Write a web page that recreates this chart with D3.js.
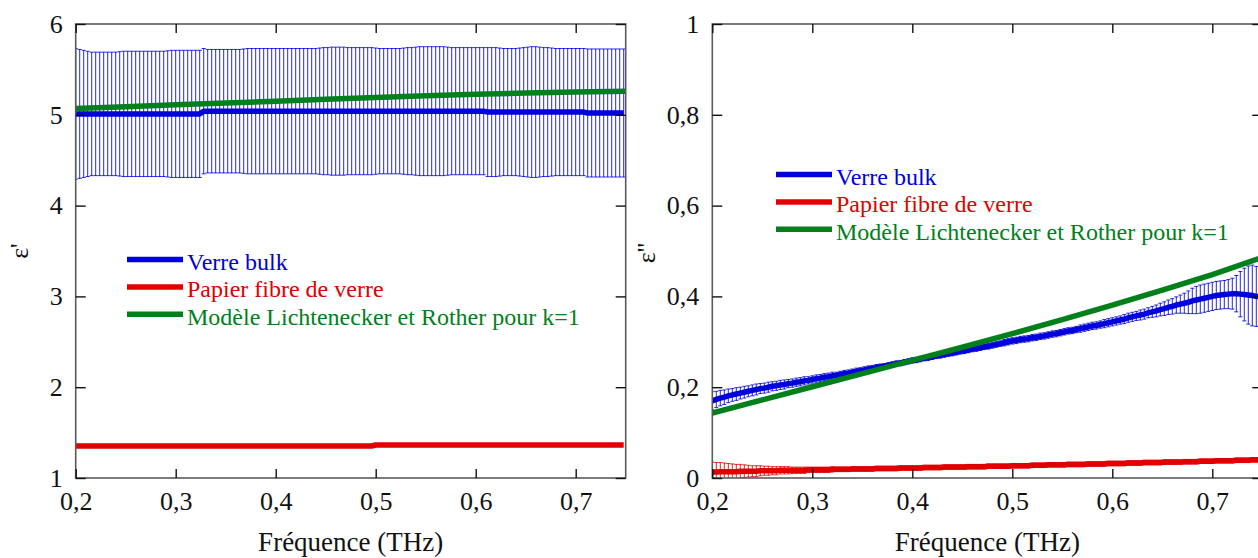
<!DOCTYPE html>
<html><head><meta charset="utf-8">
<script src="https://cdn.jsdelivr.net/npm/d3@7"></script>
<style>
html,body{margin:0;padding:0;background:#fff;overflow:hidden}
svg{display:block}
svg text{font-family:'Liberation Serif','DejaVu Serif',serif !important}
</style>
</head><body>
<svg id="c" width="1258" height="558"></svg>
<script>
// ---------- DATA ----------
const freq = [
0.200,0.204,0.208,0.212,0.216,0.220,0.224,0.228,0.232,0.236,
0.240,0.244,0.248,0.252,0.256,0.260,0.264,0.268,0.272,0.276,
0.280,0.284,0.288,0.292,0.296,0.300,0.304,0.308,0.312,0.316,
0.320,0.324,0.328,0.332,0.336,0.340,0.344,0.348,0.352,0.356,
0.360,0.364,0.368,0.372,0.376,0.380,0.384,0.388,0.392,0.396,
0.400,0.404,0.408,0.412,0.416,0.420,0.424,0.428,0.432,0.436,
0.440,0.444,0.448,0.452,0.456,0.460,0.464,0.468,0.472,0.476,
0.480,0.484,0.488,0.492,0.496,0.500,0.504,0.508,0.512,0.516,
0.520,0.524,0.528,0.532,0.536,0.540,0.544,0.548,0.552,0.556,
0.560,0.564,0.568,0.572,0.576,0.580,0.584,0.588,0.592,0.596,
0.600,0.604,0.608,0.612,0.616,0.620,0.624,0.628,0.632,0.636,
0.640,0.644,0.648,0.652,0.656,0.660,0.664,0.668,0.672,0.676,
0.680,0.684,0.688,0.692,0.696,0.700,0.704,0.708,0.712,0.716,
0.720,0.724,0.728,0.732,0.736,0.740,0.744,0.748];

// Verre bulk, epsilon'
const bulkReal = [
5.01,5.01,5.01,5.01,5.01,5.01,5.01,5.01,5.01,5.01,
5.01,5.01,5.01,5.01,5.01,5.01,5.01,5.01,5.01,5.01,
5.01,5.01,5.01,5.01,5.01,5.01,5.01,5.01,5.01,5.01,
5.01,5.01,5.04,5.04,5.04,5.04,5.04,5.04,5.04,5.04,
5.04,5.04,5.04,5.04,5.04,5.04,5.04,5.04,5.04,5.04,
5.04,5.04,5.04,5.04,5.04,5.04,5.04,5.04,5.04,5.04,
5.04,5.04,5.04,5.04,5.04,5.04,5.04,5.04,5.04,5.04,
5.04,5.04,5.04,5.04,5.04,5.04,5.04,5.04,5.04,5.04,
5.04,5.04,5.04,5.04,5.04,5.04,5.04,5.04,5.04,5.04,
5.04,5.04,5.04,5.04,5.04,5.04,5.04,5.04,5.04,5.04,
5.04,5.04,5.04,5.03,5.03,5.03,5.03,5.03,5.03,5.03,
5.03,5.03,5.03,5.03,5.03,5.03,5.03,5.03,5.03,5.03,
5.03,5.03,5.03,5.03,5.03,5.03,5.03,5.03,5.02,5.02,
5.02,5.02,5.02,5.02,5.02,5.02,5.02,5.02];
const bulkRealErr = [
0.72,0.71,0.70,0.69,0.68,0.68,0.68,0.68,0.68,0.68,
0.68,0.685,0.69,0.69,0.69,0.69,0.69,0.69,0.69,0.69,
0.69,0.69,0.69,0.695,0.70,0.70,0.70,0.70,0.70,0.70,
0.70,0.70,0.69,0.68,0.68,0.68,0.68,0.68,0.68,0.68,
0.68,0.68,0.685,0.69,0.69,0.69,0.69,0.69,0.69,0.69,
0.69,0.69,0.69,0.69,0.69,0.69,0.69,0.69,0.69,0.69,
0.69,0.695,0.70,0.70,0.705,0.705,0.705,0.705,0.70,0.70,
0.70,0.70,0.70,0.70,0.70,0.695,0.69,0.69,0.69,0.69,
0.69,0.69,0.695,0.70,0.70,0.705,0.71,0.71,0.71,0.71,
0.71,0.71,0.71,0.705,0.70,0.70,0.70,0.70,0.70,0.70,
0.70,0.70,0.70,0.71,0.71,0.71,0.705,0.70,0.70,0.70,
0.70,0.705,0.71,0.715,0.72,0.72,0.715,0.71,0.71,0.705,
0.70,0.70,0.70,0.70,0.70,0.70,0.70,0.70,0.705,0.705,
0.705,0.705,0.705,0.705,0.705,0.705,0.705,0.705];

// Papier fibre de verre, epsilon'
const papierReal = [
1.352,1.352,1.352,1.352,1.352,1.352,1.352,1.352,1.352,1.352,
1.352,1.352,1.352,1.352,1.352,1.352,1.352,1.352,1.352,1.352,
1.352,1.352,1.352,1.352,1.352,1.352,1.352,1.352,1.352,1.352,
1.352,1.352,1.352,1.352,1.352,1.352,1.352,1.352,1.352,1.352,
1.352,1.352,1.352,1.352,1.352,1.352,1.352,1.352,1.352,1.352,
1.352,1.352,1.352,1.352,1.352,1.352,1.352,1.352,1.352,1.352,
1.352,1.352,1.352,1.352,1.352,1.352,1.352,1.352,1.352,1.352,
1.352,1.352,1.352,1.352,1.352,1.363,1.363,1.363,1.363,1.363,
1.363,1.363,1.363,1.363,1.363,1.363,1.363,1.363,1.363,1.363,
1.363,1.363,1.363,1.363,1.363,1.363,1.363,1.363,1.363,1.363,
1.363,1.363,1.363,1.363,1.363,1.363,1.363,1.363,1.363,1.363,
1.363,1.363,1.363,1.363,1.363,1.363,1.363,1.363,1.363,1.363,
1.363,1.363,1.363,1.363,1.363,1.363,1.363,1.363,1.363,1.363,
1.363,1.363,1.363,1.363,1.363,1.363,1.363,1.363];

// Verre bulk, epsilon''
const bulkImag = [
0.170,0.173,0.176,0.178,0.181,0.183,0.185,0.187,0.189,0.191,
0.193,0.195,0.197,0.198,0.200,0.202,0.203,0.205,0.206,0.208,
0.209,0.211,0.212,0.214,0.215,0.217,0.219,0.220,0.222,0.223,
0.225,0.226,0.228,0.230,0.231,0.233,0.235,0.236,0.238,0.240,
0.241,0.243,0.245,0.246,0.248,0.250,0.252,0.253,0.255,0.257,
0.259,0.260,0.262,0.264,0.265,0.267,0.269,0.270,0.272,0.274,
0.275,0.277,0.279,0.280,0.282,0.284,0.285,0.287,0.289,0.290,
0.292,0.294,0.296,0.298,0.300,0.302,0.303,0.305,0.306,0.307,
0.309,0.310,0.312,0.313,0.315,0.317,0.318,0.320,0.322,0.324,
0.325,0.327,0.329,0.331,0.333,0.335,0.336,0.338,0.340,0.342,
0.344,0.346,0.348,0.350,0.353,0.355,0.357,0.359,0.361,0.364,
0.366,0.368,0.371,0.373,0.376,0.378,0.381,0.383,0.385,0.387,
0.390,0.392,0.394,0.396,0.398,0.400,0.402,0.403,0.404,0.405,
0.406,0.406,0.405,0.404,0.403,0.402,0.400,0.399];
const bulkImagErr = [
0.020,0.018,0.017,0.016,0.015,0.014,0.014,0.013,0.013,0.012,
0.012,0.012,0.011,0.011,0.011,0.010,0.010,0.010,0.010,0.009,
0.009,0.009,0.009,0.009,0.008,0.008,0.008,0.008,0.008,0.008,
0.008,0.007,0.007,0.007,0.007,0.007,0.007,0.007,0.007,0.007,
0.007,0.007,0.006,0.006,0.006,0.006,0.006,0.006,0.006,0.006,
0.006,0.006,0.006,0.006,0.006,0.006,0.006,0.006,0.006,0.006,
0.006,0.006,0.006,0.006,0.006,0.006,0.006,0.006,0.006,0.006,
0.006,0.006,0.006,0.007,0.007,0.007,0.007,0.007,0.007,0.007,
0.007,0.007,0.007,0.007,0.007,0.007,0.007,0.007,0.007,0.007,
0.007,0.007,0.008,0.008,0.008,0.008,0.008,0.008,0.009,0.009,
0.009,0.009,0.009,0.010,0.010,0.010,0.010,0.011,0.011,0.011,
0.012,0.013,0.014,0.015,0.016,0.017,0.018,0.020,0.022,0.025,
0.028,0.030,0.031,0.031,0.031,0.031,0.031,0.031,0.031,0.032,
0.034,0.040,0.050,0.058,0.064,0.067,0.066,0.063];

// Papier fibre de verre, epsilon''
const papierImag = [
0.013,0.013,0.014,0.014,0.014,0.014,0.014,0.015,0.015,0.015,
0.015,0.015,0.016,0.016,0.016,0.016,0.016,0.017,0.017,0.017,
0.017,0.017,0.017,0.017,0.018,0.018,0.018,0.018,0.018,0.018,
0.019,0.019,0.019,0.019,0.019,0.020,0.020,0.020,0.020,0.020,
0.020,0.021,0.021,0.021,0.021,0.021,0.021,0.022,0.022,0.022,
0.022,0.022,0.022,0.023,0.023,0.023,0.023,0.023,0.024,0.024,
0.024,0.024,0.024,0.024,0.025,0.025,0.025,0.025,0.025,0.026,
0.026,0.026,0.026,0.026,0.026,0.027,0.027,0.027,0.027,0.027,
0.028,0.028,0.028,0.028,0.029,0.029,0.029,0.029,0.029,0.030,
0.030,0.030,0.030,0.030,0.031,0.031,0.031,0.031,0.031,0.032,
0.032,0.032,0.032,0.032,0.033,0.033,0.033,0.033,0.034,0.034,
0.034,0.034,0.034,0.035,0.035,0.035,0.035,0.035,0.036,0.036,
0.036,0.036,0.037,0.037,0.037,0.037,0.038,0.038,0.038,0.038,
0.038,0.039,0.039,0.039,0.039,0.040,0.040,0.040];
const papierImagErr = [
0.022,0.021,0.020,0.019,0.018,0.017,0.016,0.015,0.014,0.013,
0.012,0.012,0.011,0.010,0.010,0.009,0.009,0.008,0.008,0.008,
0.007,0.007,0.007,0.007,0.006,0.006,0.006,0.006,0.006,0.006,
0.006,0.005,0.005,0.005,0.005,0.005,0.005,0.005,0.005,0.005,
0.005,0.005,0.005,0.005,0.005,0.005,0.005,0.005,0.005,0.005,
0.005,0.005,0.005,0.005,0.005,0.005,0.005,0.005,0.005,0.005,
0.005,0.005,0.005,0.005,0.005,0.005,0.005,0.005,0.005,0.005,
0.005,0.005,0.005,0.005,0.005,0.005,0.005,0.005,0.005,0.005,
0.005,0.005,0.005,0.005,0.005,0.005,0.005,0.005,0.005,0.005,
0.005,0.005,0.005,0.005,0.005,0.005,0.005,0.005,0.005,0.005,
0.005,0.005,0.005,0.005,0.005,0.005,0.005,0.005,0.005,0.005,
0.005,0.005,0.005,0.005,0.005,0.005,0.005,0.005,0.005,0.005,
0.005,0.005,0.005,0.005,0.005,0.005,0.005,0.005,0.005,0.005,
0.005,0.005,0.005,0.005,0.005,0.005,0.005,0.005];

// Modèle Lichtenecker et Rother (k=1)
const freqModel = [0.20,0.25,0.30,0.35,0.40,0.45,0.50,0.55,0.60,0.65,0.70,0.75];
const modelReal = [5.07,5.09,5.11,5.13,5.15,5.17,5.19,5.21,5.225,5.24,5.25,5.26];
const modelImag = [0.143,0.172,0.201,0.230,0.259,0.288,0.318,0.349,0.381,0.414,0.448,0.486];

const seriesNames = ["Verre bulk","Papier fibre de verre","Modèle Lichtenecker et Rother pour k=1"];
const seriesColors = ["#0000dc","#e00000","#00801a"];

const xTicks = [0.2,0.3,0.4,0.5,0.6,0.7];
const xTickLabels = ["0,2","0,3","0,4","0,5","0,6","0,7"];
const yTicksReal = [1,2,3,4,5,6];
const yTickLabelsReal = ["1","2","3","4","5","6"];
const yTicksImag = [0,0.2,0.4,0.6,0.8,1];
const yTickLabelsImag = ["0","0,2","0,4","0,6","0,8","1"];

// ---------- DRAWING ----------
const FONT = "'Liberation Serif','DejaVu Serif',serif";
const W = 550, H = 454, TOP = 24;
const svg = d3.select("#c");
svg.append("rect").attr("width",1258).attr("height",558).attr("fill","#fff");

function panel(o){
  const g = svg.append("g").attr("transform",`translate(${o.left},${TOP})`).attr("font-family",FONT);
  const x = d3.scaleLinear().domain([0.2,0.75]).range([0,W]);
  const y = d3.scaleLinear().domain(o.yDomain).range([H,0]);
  const clipId = "clip"+o.id;
  g.append("clipPath").attr("id",clipId).append("rect").attr("width",W).attr("height",H);
  const plot = g.append("g").attr("clip-path",`url(#${clipId})`);

  o.errs.forEach(s=>{
    const eg = plot.append("g").attr("stroke",s.color).attr("stroke-width",1).attr("stroke-opacity",0.85);
    const n = Math.min(freq.length, s.mean.length, s.err.length);
    for(let i=0;i<n;i++){
      const cx = x(freq[i]), y1 = y(s.mean[i]-s.err[i]), y2 = y(s.mean[i]+s.err[i]);
      eg.append("line").attr("x1",cx).attr("x2",cx).attr("y1",y1).attr("y2",y2);
      eg.append("line").attr("x1",cx-2).attr("x2",cx+2).attr("y1",y1).attr("y2",y1);
      eg.append("line").attr("x1",cx-2).attr("x2",cx+2).attr("y1",y2).attr("y2",y2);
    }
  });
  o.lines.forEach(s=>{
    const pts = s.xs.map((f,i)=>[f,s.ys[i]]).filter(d=>d[1]!==undefined);
    plot.append("path").datum(pts)
      .attr("fill","none").attr("stroke",s.color).attr("stroke-width",5.5)
      .attr("stroke-linejoin","round")
      .attr("d",d3.line().x(d=>x(d[0])).y(d=>y(d[1])));
  });

  g.append("rect").attr("width",W).attr("height",H).attr("fill","none")
    .attr("stroke","#5a5a5a").attr("stroke-width",1.6);

  const fmtX = d=>xTickLabels[xTicks.indexOf(d)];
  const fmtY = d=>o.yLabels[o.yTicks.indexOf(d)];
  const ax = g.append("g").attr("transform",`translate(0,${H})`)
    .call(d3.axisBottom(x).tickValues(xTicks).tickFormat(fmtX).tickSize(-9).tickPadding(14));
  const axT = g.append("g").call(d3.axisTop(x).tickValues(xTicks).tickFormat("").tickSize(-9));
  const ay = g.append("g")
    .call(d3.axisLeft(y).tickValues(o.yTicks).tickFormat(fmtY).tickSize(-10).tickPadding(13));
  const ayR = g.append("g").attr("transform",`translate(${W},0)`)
    .call(d3.axisRight(y).tickValues(o.yTicks).tickFormat("").tickSize(-10));
  [ax,axT,ay,ayR].forEach(a=>{
    a.attr("font-family",FONT);
    a.select(".domain").remove();
    a.selectAll(".tick line").attr("stroke","#111").attr("stroke-width",1.4);
    a.selectAll(".tick text").attr("font-size",26).attr("fill","#111").attr("font-family",FONT);
  });

  g.append("text").attr("x",W/2).attr("y",551-TOP).attr("text-anchor","middle")
    .attr("font-family",FONT).attr("font-size",27).attr("fill","#111").text("Fréquence (THz)");
  g.append("text").attr("transform",`translate(${o.yTitleX},${o.yTitleY}) rotate(-90)`)
    .attr("font-family",FONT).attr("text-anchor","middle").attr("font-size",26).attr("fill","#111").text(o.yTitle);

  seriesNames.forEach((nm,i)=>{
    const ly = o.legY + i*27.4;
    g.append("line").attr("x1",o.legX).attr("x2",o.legX+56).attr("y1",ly).attr("y2",ly)
      .attr("stroke",seriesColors[i]).attr("stroke-width",5.5);
    g.append("text").attr("x",o.legX+60).attr("y",ly+10.5).attr("font-size",24)
      .attr("font-family",FONT).attr("fill",seriesColors[i]).text(nm);
  });
}

panel({
  id:"L", left:75.7, yDomain:[1,6], yTicks:yTicksReal, yLabels:yTickLabelsReal,
  errs:[{mean:bulkReal, err:bulkRealErr, color:seriesColors[0]}],
  lines:[
    {xs:freq, ys:bulkReal, color:seriesColors[0]},
    {xs:freq, ys:papierReal, color:seriesColors[1]},
    {xs:freqModel, ys:modelReal, color:seriesColors[2]}
  ],
  yTitle:"ε'", yTitleX:28-75.7, yTitleY:251-TOP,
  legX:127-75.7, legY:259.5-TOP
});

panel({
  id:"R", left:712.3, yDomain:[0,1], yTicks:yTicksImag, yLabels:yTickLabelsImag,
  errs:[{mean:bulkImag, err:bulkImagErr, color:seriesColors[0]},
        {mean:papierImag, err:papierImagErr, color:seriesColors[1]}],
  lines:[
    {xs:freq, ys:bulkImag, color:seriesColors[0]},
    {xs:freq, ys:papierImag, color:seriesColors[1]},
    {xs:freqModel, ys:modelImag, color:seriesColors[2]}
  ],
  yTitle:"ε''", yTitleX:655-712.3, yTitleY:253-TOP,
  legX:776-712.3, legY:174.5-TOP
});
</script>
</body></html>
